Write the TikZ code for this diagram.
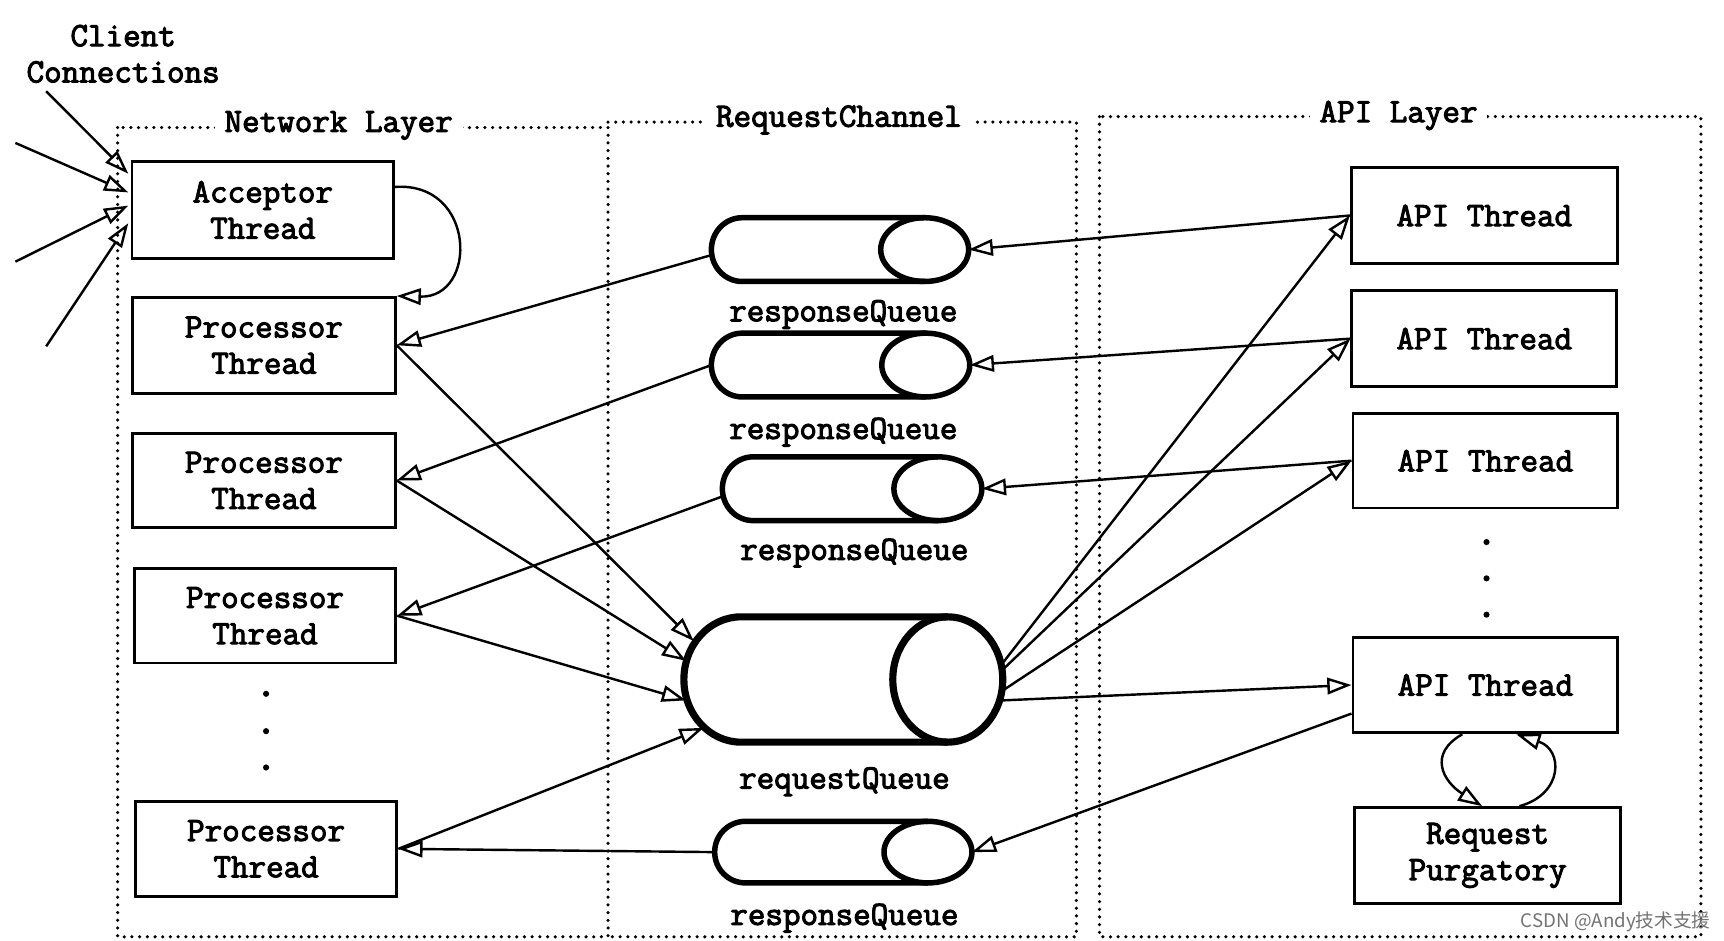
\documentclass[tikz,border=0pt]{standalone}
\usepackage{fontspec}
\newfontfamily\cjkfont{Noto Sans CJK SC}
\newfontfamily\codefont{Latin Modern Mono}[FakeBold=3]
\usetikzlibrary{arrows.meta,calc}
\newcommand\lblfont{\fontsize{31}{33}\selectfont\codefont}
\newcommand\drawqueue[8]{%
  \node[qbody, minimum width={2*#4}, minimum height={2*#5}] (#1) at (#2,#3) {};
  \draw[line width=#8] ($(#1.north east)+(-#6,0)$) -- ($(#1.north west)+(#7,0)$)
    .. controls ($(#1.north west)+({0.4477*#7},0)$) and ($(#1.west)+(0,{-0.5523*#5})$) .. (#1.west)
    .. controls ($(#1.west)+(0,{0.5523*#5})$) and ($(#1.south west)+({0.4477*#7},0)$) .. ($(#1.south west)+(#7,0)$)
    -- ($(#1.south east)+(-#6,0)$);
  \draw[line width=#8] ($(#1.east)+(-#6,0)$) ellipse [x radius=#6, y radius=#5];
}
\tikzset{
  box/.style={draw, line width=2.6pt, minimum width=240pt, minimum height=86pt,
    inner sep=0pt, align=center, font=\lblfont},
  qbody/.style={inner sep=0pt, outer sep=0pt, draw=none},
  arr/.style={line width=2.2pt, -{Triangle[open, length=22pt, width=15pt]}},
  frame/.style={line width=3.2pt, line cap=round, dash pattern=on 0pt off 7pt},
  ttl/.style={fill=white, inner xsep=9pt, inner ysep=2pt, font=\lblfont},
  qlbl/.style={font=\lblfont, inner sep=0pt},
}
\begin{document}
\begin{tikzpicture}[x=1pt, y=-1pt]
\useasboundingbox[fill=white] (0,0) rectangle (1568,855);

% layer frames
\draw[frame] (107,116) rectangle (553,852);
\draw[frame] (553,111) -- (979,111) -- (979,852) -- (553,852);
\draw[frame] (1000,106) rectangle (1547,852);
\node[ttl] (tnet) at (308,114) {Network Layer};
\node[ttl] (trc) at (763,109) {RequestChannel};
\node[ttl] (tapi) at (1272,105) {API Layer};

% client
\node[font=\lblfont, align=center, inner sep=0pt] (client) at (112,49) {Client\\Connections};
\coordinate (c1) at (42,83);
\coordinate (c2) at (14,130);
\coordinate (c3) at (14,238);
\coordinate (c4) at (42,315);

% network layer boxes
\node[box, minimum width=238pt, minimum height=88pt] (acc) at (239,191) {Acceptor\\Thread};
\node[box, minimum width=239pt, minimum height=87pt] (p1) at (240,314) {Processor\\Thread};
\node[box, minimum width=239pt, minimum height=85pt] (p2) at (240,437) {Processor\\Thread};
\node[box, minimum width=238pt, minimum height=86pt] (p3) at (241,560) {Processor\\Thread};
\node[box, minimum width=238pt, minimum height=86pt] (p4) at (242,772) {Processor\\Thread};
\fill (242,631) circle [radius=2.8];
\fill (242,665) circle [radius=2.8];
\fill (242,698) circle [radius=2.8];

% API layer boxes
\node[box, minimum width=242pt, minimum height=87pt] (api1) at (1350,196) {API Thread};
\node[box, minimum width=241pt, minimum height=87pt] (api2) at (1350,308) {API Thread};
\node[box, minimum width=241pt, minimum height=86pt] (api3) at (1351,419) {API Thread};
\node[box, minimum width=241pt, minimum height=87pt] (api4) at (1351,623) {API Thread};
\node[box, minimum width=242pt, minimum height=87pt] (pur) at (1353,778) {Request\\Purgatory};
\fill (1352,493) circle [radius=2.8];
\fill (1352,526) circle [radius=2.8];
\fill (1352,559) circle [radius=2.8];

% queues
\drawqueue{rq1}{764}{227}{117}{29}{40}{28}{5pt}
\drawqueue{rq2}{764.5}{332}{117.5}{29}{40}{28}{5pt}
\drawqueue{rq3}{775}{444.5}{118}{29}{40}{28}{5pt}
\drawqueue{rq}{767}{618}{145}{57}{50}{52}{6.5pt}
\drawqueue{rq4}{767}{775}{117}{28}{40}{28}{5pt}
\node[qlbl] (l1) at (767,286) {responseQueue};
\node[qlbl] (l2) at (767,393) {responseQueue};
\node[qlbl] (l3) at (777,503) {responseQueue};
\node[qlbl] (l4) at (768,711) {requestQueue};
\node[qlbl] (l5) at (768,835) {responseQueue};

% client connections
\draw[arr] (c1) -- ($(acc.west)+(-2,-33)$);
\draw[arr] (c2) -- ($(acc.west)+(-2,-16)$);
\draw[arr] (c3) -- ($(acc.west)+(-2,-4)$);
\draw[arr] (c4) -- ($(acc.west)+(-2,12)$);

% acceptor -> processor
\draw[arr] ($(acc.east)+(0,-21)$) .. controls +(74,-5) and +(74,2) .. (p1.north east);

% response queues -> processors
\draw[arr] ($(rq1.west)+(0,5)$) -- (p1.east);
\draw[arr] (rq2.west) -- (p2.east);
\draw[arr] ($(rq3.west)+(0,7)$) -- (p3.east);
\draw[arr] (rq4.west) -- (p4.east);

% processors -> request queue
\draw[arr] (p1.east) -- ($(rq.west)+(9,-35)$);
\draw[arr] (p2.east) -- ($(rq.west)+(2,-17)$);
\draw[arr] (p3.east) -- ($(rq.west)+(2,19)$);
\draw[arr] (p4.east) -- ($(rq.west)+(18,44)$);

% API threads -> response queues
\draw[arr] (api1.west) -- (rq1.east);
\draw[arr] (api2.west) -- (rq2.east);
\draw[arr] (api3.west) -- (rq3.east);
\draw[arr] ($(api4.west)+(0,26)$) -- (rq4.east);

% request queue -> API threads
\draw[arr] ($(rq.east)+(0,-15)$) -- (api1.west);
\draw[arr] ($(rq.east)+(0,-9)$) -- (api2.west);
\draw[arr] ($(rq.east)+(0,10)$) -- (api3.west);
\draw[arr] ($(rq.east)+(0,19)$) -- (api4.west);

% API thread <-> purgatory loop
\draw[arr] ($(api4.south)+(-21,0)$) .. controls +(-32,18) and +(-35,-22) .. ($(pur.north)+(-5,0)$);
\draw[arr] ($(pur.north)+(29,0)$) .. controls +(40,-11) and +(43,14) .. ($(api4.south)+(28,0)$);

% watermark
\node[font=\cjkfont\fontsize{17}{17}\selectfont, text=black!55, anchor=east, inner sep=0pt] (wm) at (1556,838) {CSDN @Andy技术支援};
\end{tikzpicture}
\end{document}
